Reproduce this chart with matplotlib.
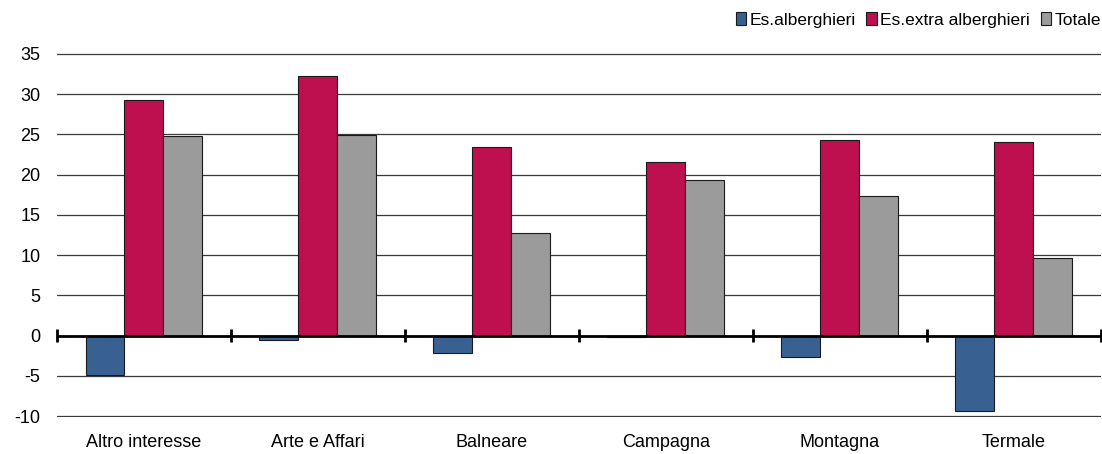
import matplotlib
matplotlib.use("Agg")
import matplotlib.pyplot as plt
import numpy as np
from matplotlib import font_manager

names = {f.name for f in font_manager.fontManager.ttflist}
family = "Liberation Sans Narrow" if "Liberation Sans Narrow" in names else "Liberation Sans"
plt.rcParams["font.family"] = [family, "DejaVu Sans"]
plt.rcParams["axes.unicode_minus"] = False

categories = ["Altro interesse", "Arte e Affari", "Balneare", "Campagna", "Montagna", "Termale"]
alberghieri = [-4.9, -0.5, -2.2, -0.2, -2.7, -9.3]
extra_alberghieri = [29.3, 32.3, 23.5, 21.6, 24.3, 24.1]
totale = [24.85, 24.9, 12.7, 19.4, 17.4, 9.6]

series = [
    ("Es.alberghieri", alberghieri, "#386192"),
    ("Es.extra alberghieri", extra_alberghieri, "#BE0F4E"),
    ("Totale", totale, "#9B9B9B"),
]

fig = plt.figure(figsize=(11.02, 4.54), dpi=100)
ax = fig.add_axes([0.0517, 0.0815, 0.9473, 0.8015])

x = np.arange(len(categories))
w = 0.224
for i, (name, vals, col) in enumerate(series):
    ax.bar(x + (i - 1) * w, vals, w, color=col, edgecolor="#1a1a1a",
           linewidth=0.8, label=name, zorder=3)

ax.set_xlim(-0.5, len(categories) - 0.5)
ax.set_ylim(-10.1, 35.1)
ax.set_yticks(np.arange(-10, 36, 5))
ax.yaxis.grid(True, color="#3a3a3a", linewidth=0.9, zorder=0)
ax.set_axisbelow(True)
for s in ax.spines.values():
    s.set_visible(False)
ax.tick_params(axis="y", length=0, labelsize=13, pad=12)
ax.tick_params(axis="x", length=0, labelsize=13, pad=12)
ax.set_xticks(x)
ax.set_xticklabels(categories)

# zero axis with category separators
ax.axhline(0, color="black", linewidth=2, zorder=4)
bounds = np.arange(len(categories) + 1) - 0.5
ax.vlines(bounds, -0.8, 0.8, color="black", linewidth=2, zorder=4, clip_on=False)

ax.legend(loc="lower right", bbox_to_anchor=(1.0, 1.07), ncol=3, frameon=False,
          fontsize=12.5, handlelength=0.6, handleheight=0.7, handletextpad=0.2,
          columnspacing=0.6, borderaxespad=0, borderpad=0)

fig.savefig("out.png", dpi=100)
